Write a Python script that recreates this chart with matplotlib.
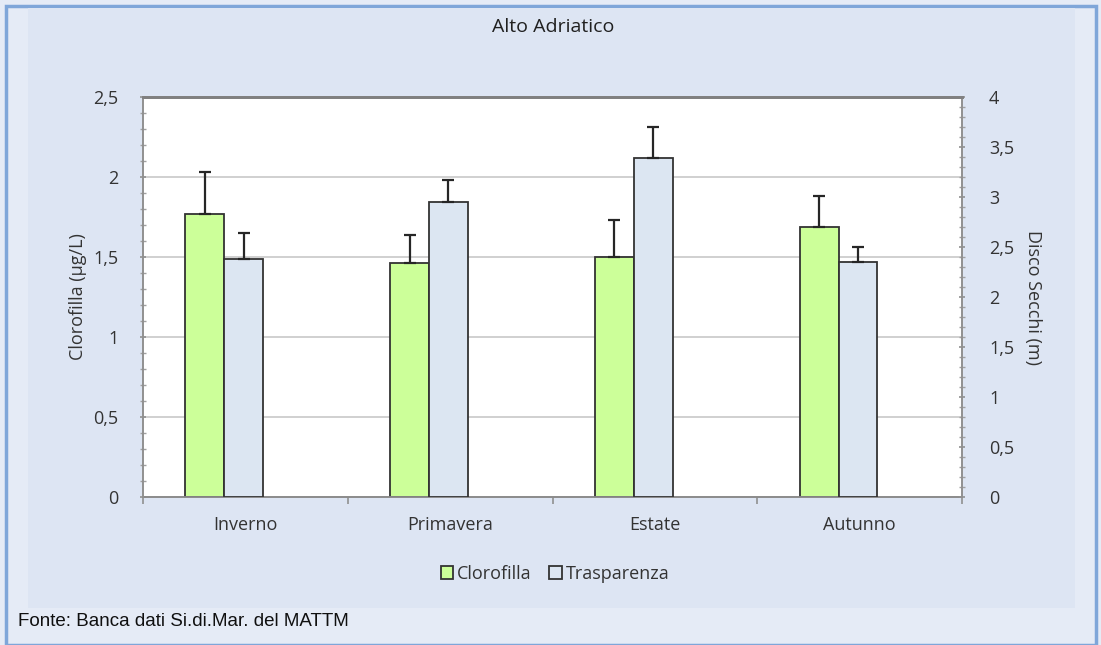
import matplotlib
matplotlib.use("Agg")
import matplotlib.pyplot as plt
import numpy as np
from matplotlib.patches import Rectangle
from matplotlib.ticker import MultipleLocator, FuncFormatter

categories = ['Inverno', 'Primavera', 'Estate', 'Autunno']
clorofilla = [1.77, 1.46, 1.50, 1.69]
clorofilla_err = [0.26, 0.18, 0.23, 0.19]
trasparenza = [2.38, 2.95, 3.39, 2.35]
trasparenza_err = [0.26, 0.22, 0.31, 0.15]

plt.rcParams['font.family'] = ['Open Sans', 'DejaVu Sans']
FS = 13

W, H = 1101, 645
fig = plt.figure(figsize=(W / 100, H / 100), dpi=100)
fig.patch.set_facecolor('#e5ebf6')

# panels
fig.add_artist(Rectangle((6 / W, 0), (1096 - 6) / W, (645 - 6) / H, transform=fig.transFigure,
                         facecolor='#e5ebf6', edgecolor='#7fa6d9', lw=2.5, zorder=0))
fig.add_artist(Rectangle((28 / W, (645 - 608) / H), (1075 - 28) / W, (608 - 8) / H,
                         transform=fig.transFigure, facecolor='#dde5f3', edgecolor='none', zorder=0))

ax = fig.add_axes([143 / W, (645 - 497) / H, (962 - 143) / W, 400 / H])
ax.set_facecolor('white')
ax2 = ax.twinx()

x = np.arange(len(categories))
bw = 0.19
off1, off2 = -0.198, -0.008

ax.bar(x + off1, clorofilla, width=bw, color='#ccff99', edgecolor='#333333', lw=1.3, zorder=3,
       label='Clorofilla')
ax.errorbar(x + off1, clorofilla, yerr=[np.zeros(4), clorofilla_err], fmt='none',
            ecolor='#262626', elinewidth=1.6, capsize=4.5, capthick=1.6, zorder=4)
ax2.bar(x + off2, trasparenza, width=bw, color='#dce6f2', edgecolor='#333333', lw=1.3, zorder=3,
        label='Trasparenza')
ax2.errorbar(x + off2, trasparenza, yerr=[np.zeros(4), trasparenza_err], fmt='none',
             ecolor='#262626', elinewidth=1.6, capsize=4.5, capthick=1.6, zorder=4)

ax.set_xlim(-0.5, 3.5)
ax.set_ylim(0, 2.5)
ax2.set_ylim(0, 4)

fmt = FuncFormatter(lambda v, p: ('%g' % v).replace('.', ','))
ax.yaxis.set_major_locator(MultipleLocator(0.5))
ax.yaxis.set_minor_locator(MultipleLocator(0.1))
ax.yaxis.set_major_formatter(fmt)
ax2.yaxis.set_major_locator(MultipleLocator(0.5))
ax2.yaxis.set_minor_locator(MultipleLocator(0.1))
ax2.yaxis.set_major_formatter(fmt)

ax.grid(axis='y', color='#c8c8c8', lw=1.2, zorder=0)
ax.set_axisbelow(True)

ax.set_xticks(x)
ax.set_xticklabels(categories)
ax.set_xticks(np.arange(-0.5, 4.0, 1.0), minor=True)
ax.tick_params(axis='x', which='major', length=0, pad=14, labelsize=FS, labelcolor='#333333')
ax.tick_params(axis='x', which='minor', length=5, color='#909090', width=1.2, direction='out')
ax.tick_params(axis='y', which='major', length=5, direction='inout', color='#909090', width=1.2,
               labelsize=FS, labelcolor='#333333', pad=15)
ax.tick_params(axis='y', which='minor', length=4, direction='inout', color='#a0a0a0', width=1.0)
ax2.tick_params(axis='y', which='major', length=5, direction='inout', color='#909090', width=1.2,
                labelsize=FS, labelcolor='#333333', pad=17)
ax2.tick_params(axis='y', which='minor', length=4, direction='inout', color='#a0a0a0', width=1.0)

for a in (ax, ax2):
    for s in a.spines.values():
        s.set_color('#909090')
        s.set_linewidth(1.2)
ax.spines['bottom'].set_color('#707070')
for a in (ax, ax2):
    a.spines['top'].set_color('#808080')
    a.spines['top'].set_linewidth(2)

ax.set_ylabel('Clorofilla (µg/L)', fontsize=FS, color='#333333', labelpad=5)
ax2.set_ylabel('Disco Secchi (m)', fontsize=FS, color='#333333', rotation=-90, labelpad=20)

fig.text(553 / W, 1 - 27 / H, 'Alto Adriatico', ha='center', va='center', fontsize=14,
         color='#202020')

h1, l1 = ax.get_legend_handles_labels()
h2, l2 = ax2.get_legend_handles_labels()
leg = fig.legend(h1 + h2, l1 + l2, loc='center', bbox_to_anchor=(555 / W, 1 - 574 / H), ncol=2,
                 frameon=False, fontsize=FS, handlelength=0.7, handleheight=0.7,
                 handletextpad=0.2, columnspacing=1.0)
for t in leg.get_texts():
    t.set_color('#333333')

fig.text(18 / W, 1 - 621 / H, 'Fonte: Banca dati Si.di.Mar. del MATTM', ha='left', va='center',
         fontsize=13.5, family=['Liberation Sans', 'DejaVu Sans'], color='#101010')

fig.savefig('out.png', dpi=100, facecolor=fig.get_facecolor())
